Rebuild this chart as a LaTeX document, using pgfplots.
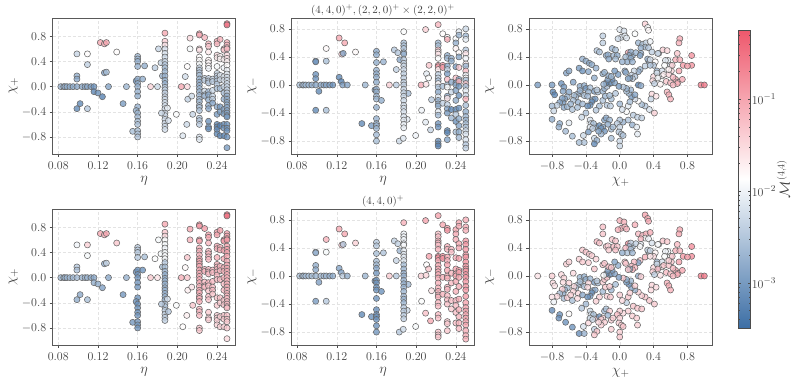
\documentclass[border=0pt]{standalone}
\usepackage{pgfplots}
\usepackage{pgfplotstable}
\pgfplotsset{compat=1.18}

% eta, chi+, log10 M (top row), log10 M (bottom row)
\pgfplotstableread{
x y t b
0.0826 0 -2.75 -2.7
0.0855 0 -2.75 -2.7
0.0867 0 -2.75 -2.7
0.0888 0 -2.8 -2.7
0.0918 0 -2.8 -2.65
0.0950 0 -2.8 -2.65
0.0988 0 -2.85 -2.65
0.1040 0 -2.85 -2.7
0.1070 0 -2.85 -2.7
0.1094 0 -2.85 -2.7
0.1130 0 -2.95 -2.8
0.1160 0 -3.1 -2.85
0.0988 0.52 -2.35 -2.0
0.1094 0.52 -1.85 -1.4
0.1094 0.35 -2.4 -1.95
0.0988 0.17 -2.8 -2.5
0.0988 0.12 -2.85 -2.55
0.0988 -0.35 -3.2 -2.8
0.1020 -0.27 -3.2 -2.85
0.1094 -0.35 -2.5 -2.6
0.1224 0.70 -1.0 -1.0
0.1265 0.68 -1.1 -1.1
0.1285 0.70 -1.0 -1.0
0.1265 0.22 -2.95 -2.8
0.1285 0.23 -2.6 -2.35
0.1160 -0.08 -3.25 -2.8
0.1200 -0.10 -3.1 -2.8
0.1245 -0.16 -3.3 -2.95
0.1306 0 -2.9 -2.85
0.1389 0.55 -1.85 -1.3
0.1453 -0.27 -3.0 -3.05
0.1487 0 -2.7 -2.75
0.16 0.48 -2.7 -2.45
0.16 0.44 -2.7 -2.45
0.16 0.40 -2.75 -2.45
0.16 0.32 -2.75 -2.5
0.1585 0.09 -3.2 -3.1
0.16 0.12 -2.8 -3.1
0.16 0.05 -2.8 -3.05
0.16 0.0 -2.75 -3.05
0.16 -0.08 -2.75 -3.05
0.16 -0.15 -2.8 -3.05
0.16 -0.32 -2.75 -3.1
0.1585 -0.38 -2.75 -3.1
0.16 -0.42 -2.7 -3.1
0.16 -0.48 -2.65 -3.1
0.16 -0.55 -2.6 -3.1
0.16 -0.60 -2.55 -3.05
0.155 -0.71 -2.6 -3.05
0.16 -0.70 -2.6 -3.05
0.16 -0.75 -2.55 -3.05
0.16 -0.80 -2.5 -3.05
0.167 0.33 -2.8 -2.6
0.165 0.12 -2.8 -3.1
0.1775 0.30 -2.45 -1.9
0.1810 0.60 -2.35 -1.95
0.1835 0.38 -2.35 -1.95
0.1850 0.17 -2.7 -2.6
0.1730 0 -1.45 -1.35
0.1800 0 -2.3 -1.6
0.1875 0.85 -1.0 -1.0
0.1875 0.72 -1.4 -1.3
0.1875 0.66 -1.6 -1.5
0.1875 0.60 -2.2 -1.9
0.1875 0.53 -2.2 -1.95
0.1875 0.47 -2.3 -2.0
0.1875 0.40 -2.35 -1.95
0.1875 0.35 -2.5 -1.9
0.1875 0.30 -2.6 -1.95
0.1875 0.24 -2.7 -2.5
0.1875 0.17 -2.75 -2.6
0.1875 0.10 -2.8 -2.7
0.1875 0.05 -2.75 -2.8
0.1875 -0.01 -2.5 -2.8
0.1875 -0.05 -2.4 -2.75
0.1875 -0.10 -2.4 -2.8
0.1875 -0.16 -2.3 -2.75
0.1875 -0.20 -2.3 -2.75
0.1875 -0.25 -2.25 -2.75
0.1875 -0.30 -2.25 -2.75
0.1875 -0.35 -2.25 -2.8
0.1875 -0.42 -2.3 -2.55
0.1875 -0.46 -2.3 -2.5
0.1875 -0.52 -2.3 -2.45
0.1875 -0.58 -2.3 -2.4
0.1875 -0.63 -2.3 -2.4
0.1875 -0.68 -2.25 -2.4
0.1900 -0.34 -2.05 -2.2
0.1910 -0.54 -2.2 -2.5
0.1840 -0.42 -2.3 -2.5
0.1990 -0.44 -1.9 -1.9
0.2055 -0.78 -2.15 -1.85
0.2095 -0.60 -2.3 -1.7
0.2105 -0.20 -2.4 -1.7
0.2040 0 -1.0 -1.1
0.2100 0 -1.5 -1.3
0.2080 0.16 -2.25 -1.8
0.2100 0.32 -1.85 -1.3
0.2128 0.77 -1.5 -1.0
0.2128 0.60 -1.95 -1.1
0.2145 -0.15 -2.3 -1.6
0.2155 -0.44 -2.35 -1.3
0.2222 0.84 -1.0 -0.9
0.2222 0.82 -1.05 -0.9
0.2222 0.60 -1.55 -1.0
0.2222 0.58 -1.6 -1.0
0.2222 0.47 -1.85 -1.1
0.2222 0.42 -1.85 -1.1
0.2222 0.36 -1.95 -1.1
0.2222 0.30 -2.3 -1.0
0.2222 0.26 -2.45 -1.0
0.2222 0.22 -2.55 -1.0
0.2222 0.18 -2.6 -1.0
0.2222 0.12 -2.7 -1.0
0.2222 0.07 -2.75 -1.05
0.2222 0.02 -2.75 -1.05
0.2222 -0.03 -2.7 -1.05
0.2222 -0.08 -2.7 -1.05
0.2222 -0.14 -2.7 -1.05
0.2222 -0.20 -2.65 -1.05
0.2222 -0.24 -2.6 -1.05
0.2222 -0.30 -2.55 -1.1
0.2222 -0.33 -2.55 -1.1
0.2222 -0.38 -2.55 -1.1
0.2222 -0.50 -2.5 -1.15
0.2222 -0.54 -2.5 -1.2
0.2222 -0.60 -2.45 -1.2
0.2222 -0.80 -2.2 -1.3
0.2222 -0.84 -2.1 -1.3
0.2275 0.78 -1.15 -0.9
0.2275 0.13 -2.35 -1.15
0.2275 0.10 -2.4 -1.15
0.2275 -0.07 -2.3 -1.2
0.2275 -0.13 -2.6 -1.2
0.2275 -0.15 -2.65 -1.2
0.2314 0.68 -1.15 -0.95
0.2314 0.64 -1.3 -1.0
0.2314 0.55 -1.65 -1.15
0.2314 0.42 -1.75 -1.15
0.2314 0.38 -1.8 -1.15
0.2314 0.33 -1.8 -1.2
0.2314 0.29 -2.0 -1.2
0.2314 0.13 -2.4 -1.2
0.2314 0.09 -2.45 -1.2
0.2314 0.06 -2.5 -1.2
0.2314 -0.08 -2.65 -1.15
0.2314 -0.13 -2.85 -1.25
0.2314 -0.21 -2.8 -1.3
0.2314 -0.30 -2.8 -1.25
0.2314 -0.35 -2.85 -1.3
0.2314 -0.55 -3.1 -1.35
0.2314 -0.64 -3.1 -1.4
0.2314 -0.67 -3.1 -1.4
0.2355 0.12 -2.4 -1.2
0.2355 0.08 -2.45 -1.2
0.2355 -0.06 -2.3 -1.2
0.2355 -0.15 -2.35 -1.2
0.2355 -0.20 -2.4 -1.2
0.2355 -0.26 -2.9 -1.3
0.24 0.72 -1.1 -0.95
0.24 0.68 -1.15 -1.0
0.24 0.50 -1.55 -1.05
0.24 0.46 -1.65 -1.05
0.24 0.32 -1.95 -1.1
0.24 0.21 -2.35 -1.1
0.24 0.17 -2.4 -1.15
0.24 0.13 -2.5 -1.15
0.24 0.09 -2.55 -1.15
0.24 0.04 -2.5 -1.15
0.24 -0.03 -2.55 -1.2
0.24 -0.32 -2.85 -1.3
0.24 -0.44 -3.0 -1.35
0.24 -0.60 -3.2 -1.4
0.24 -0.64 -3.2 -1.4
0.24 -0.68 -3.2 -1.4
0.24 -0.75 -3.2 -1.45
0.2431 0.75 -1.1 -0.95
0.2431 0.48 -1.75 -1.1
0.2431 0.44 -1.75 -1.1
0.2431 0.18 -2.2 -1.15
0.2431 0.11 -2.3 -1.2
0.2431 -0.03 -2.6 -1.2
0.2431 -0.32 -3.0 -1.3
0.2431 -0.40 -3.0 -1.35
0.2431 -0.62 -3.3 -1.4
0.2431 -0.78 -3.2 -1.45
0.2469 0.60 -1.3 -0.9
0.2469 0.58 -1.35 -0.95
0.2469 0.43 -1.75 -1.0
0.2469 0.30 -2.0 -1.05
0.2469 0.16 -2.15 -1.1
0.2469 0.10 -2.2 -1.1
0.2469 0 -2.35 -1.1
0.2469 -0.10 -2.65 -1.2
0.2469 -0.20 -2.75 -1.2
0.2469 -0.36 -2.95 -1.3
0.2469 -0.43 -3.0 -1.3
0.2469 -0.60 -3.1 -1.35
0.2469 -0.66 -3.1 -1.35
0.2469 -0.78 -3.2 -1.4
0.25 1.00 -0.5 -0.45
0.25 0.98 -0.55 -0.5
0.25 0.70 -1.1 -0.95
0.25 0.66 -1.15 -0.95
0.25 0.62 -1.2 -0.9
0.25 0.60 -1.2 -0.9
0.25 0.50 -1.5 -0.95
0.25 0.45 -1.6 -0.95
0.25 0.40 -1.75 -1.0
0.25 0.34 -1.85 -1.0
0.25 0.26 -2.0 -1.05
0.25 0.20 -2.1 -1.05
0.25 0.15 -2.2 -1.05
0.25 0.10 -2.25 -1.05
0.25 0.05 -2.3 -1.05
0.25 0 -2.35 -1.1
0.25 -0.05 -2.4 -1.1
0.25 -0.10 -2.45 -1.1
0.25 -0.15 -2.75 -1.1
0.25 -0.20 -2.8 -1.15
0.25 -0.25 -2.8 -1.15
0.25 -0.29 -2.8 -1.15
0.25 -0.33 -2.85 -1.2
0.25 -0.38 -2.85 -1.2
0.25 -0.42 -2.9 -1.2
0.25 -0.46 -2.95 -1.2
0.25 -0.48 -3.0 -1.25
0.25 -0.60 -3.05 -1.3
0.25 -0.66 -3.05 -1.3
0.25 -0.70 -3.1 -1.35
0.25 -0.80 -3.1 -1.35
0.25 -0.97 -3.0 -1.5
}\tablea

% eta, chi-, log10 M (top row), log10 M (bottom row)
\pgfplotstableread{
x y t b
0.0826 0 -2.6 -2.6
0.0855 0 -2.6 -2.6
0.0867 0 -2.65 -2.6
0.0888 0 -2.7 -2.65
0.0918 0 -2.7 -2.6
0.0950 0 -2.75 -2.6
0.0988 0 -2.85 -2.7
0.1040 0 -2.85 -2.65
0.1070 0 -2.85 -2.65
0.1094 0 -2.9 -2.7
0.1130 0 -2.95 -2.75
0.1160 0 -3.1 -2.8
0.0988 0.34 -3.05 -2.7
0.0988 0.33 -3.05 -2.75
0.0988 0.15 -3.1 -2.8
0.0988 0.09 -3.1 -2.85
0.1094 0.34 -2.6 -1.95
0.1094 0.52 -1.8 -1.1
0.0988 -0.36 -3.2 -3.0
0.1094 -0.36 -2.6 -2.5
0.1020 -0.09 -3.2 -2.95
0.1224 0.11 -3.2 -2.9
0.1245 0.05 -3.3 -2.95
0.1260 0 -2.95 -2.4
0.1306 0 -2.9 -2.8
0.1224 0.67 -1.0 -1.0
0.1280 0.60 -1.0 -1.0
0.1250 0.44 -1.35 -1.3
0.1265 0.45 -2.9 -2.5
0.1389 0.47 -1.8 -1.4
0.1453 -0.55 -3.2 -3.2
0.1487 0 -2.7 -2.7
0.1550 -0.58 -3.0 -3.1
0.1585 -0.07 -3.0 -3.1
0.16 0.48 -2.85 -2.5
0.16 0.43 -2.8 -2.5
0.16 0.32 -2.8 -2.6
0.16 0.21 -2.75 -2.6
0.16 0.16 -2.8 -2.65
0.16 0.11 -2.8 -2.9
0.16 0.04 -2.8 -3.05
0.16 -0.06 -2.75 -3.05
0.16 -0.10 -2.75 -3.05
0.16 -0.16 -2.7 -3.1
0.16 -0.20 -2.7 -3.1
0.16 -0.32 -2.8 -3.1
0.16 -0.48 -2.75 -3.15
0.16 -0.55 -2.75 -3.15
0.16 -0.58 -2.75 -3.1
0.16 -0.62 -2.7 -3.1
0.16 -0.71 -2.65 -3.1
0.16 -0.80 -2.6 -3.05
0.1650 -0.22 -2.8 -3.1
0.1670 0.33 -2.75 -2.55
0.1780 0.50 -2.5 -2.4
0.1815 0.46 -2.5 -2.4
0.1835 0.36 -2.85 -2.7
0.1800 0.22 -2.4 -2.35
0.1730 0 -1.4 -1.35
0.1800 0 -2.45 -2.5
0.1830 -0.80 -2.3 -2.5
0.1870 -0.76 -2.15 -2.3
0.1995 -0.72 -2.0 -1.95
0.1910 -0.49 -2.1 -2.3
0.1920 -0.12 -2.65 -2.65
0.1875 0.76 -1.9 -1.1
0.1875 0.60 -2.6 -2.0
0.1875 0.56 -2.55 -2.0
0.1875 0.52 -2.5 -2.0
0.1875 0.46 -2.7 -2.1
0.1875 0.44 -2.75 -1.9
0.1875 0.36 -2.45 -2.05
0.1875 0.31 -2.35 -2.1
0.1875 0.27 -2.3 -2.1
0.1875 0.22 -2.3 -2.15
0.1875 0.16 -2.4 -2.6
0.1875 0.10 -2.4 -2.7
0.1875 0.04 -2.4 -2.75
0.1875 0 -2.4 -2.75
0.1875 -0.06 -2.35 -2.75
0.1875 -0.11 -2.35 -2.75
0.1875 -0.16 -2.35 -2.75
0.1875 -0.22 -2.3 -2.7
0.1875 -0.29 -2.25 -2.65
0.1875 -0.33 -2.25 -2.7
0.1875 -0.38 -2.2 -2.7
0.1875 -0.45 -2.2 -2.5
0.1875 -0.50 -2.1 -2.45
0.1875 -0.56 -2.05 -2.45
0.1875 -0.61 -2.05 -2.4
0.2050 0 -1.05 -1.4
0.2100 0.01 -1.6 -1.45
0.2095 0.79 -1.4 -0.95
0.2105 0.16 -2.1 -1.85
0.2130 0.28 -1.3 -0.95
0.2125 0.10 -1.9 -1.3
0.2055 -0.36 -2.0 -1.9
0.2095 -0.53 -2.1 -1.25
0.2145 -0.64 -2.35 -1.0
0.2155 -0.21 -2.45 -1.6
0.2222 0.86 -1.15 -0.95
0.2222 0.60 -2.7 -1.25
0.2222 0.56 -2.6 -1.25
0.2222 0.50 -1.3 -1.1
0.2222 0.47 -1.7 -1.15
0.2222 0.44 -1.6 -1.25
0.2222 0.38 -1.9 -1.1
0.2222 0.28 -0.85 -0.75
0.2222 0.26 -0.85 -0.75
0.2222 0.22 -1.7 -1.0
0.2222 0.15 -2.4 -1.0
0.2222 0.10 -2.35 -1.05
0.2222 0.06 -2.6 -1.05
0.2222 0.02 -1.8 -1.05
0.2222 -0.03 -2.6 -1.05
0.2222 -0.10 -2.85 -1.1
0.2222 -0.17 -2.2 -1.1
0.2222 -0.22 -2.75 -1.1
0.2222 -0.27 -2.75 -1.1
0.2222 -0.30 -2.8 -1.1
0.2222 -0.38 -2.1 -1.15
0.2222 -0.43 -2.65 -1.2
0.2222 -0.55 -3.05 -1.2
0.2222 -0.60 -3.1 -1.25
0.2222 -0.80 -3.1 -1.3
0.2222 -0.84 -3.2 -1.3
0.2222 -0.87 -3.25 -1.3
0.2268 0.73 -1.85 -1.0
0.2268 0.28 -0.85 -0.8
0.2268 0.25 -0.9 -0.8
0.2268 -0.02 -2.6 -1.1
0.2268 -0.26 -2.4 -1.15
0.2314 0.68 -1.85 -0.95
0.2314 0.65 -1.1 -0.85
0.2314 0.42 -2.8 -1.1
0.2314 0.38 -2.7 -1.15
0.2314 0.27 -2.85 -1.0
0.2314 0.22 -2.4 -1.1
0.2314 0.16 -2.95 -0.95
0.2314 0.08 -1.2 -1.0
0.2314 0 -2.6 -1.1
0.2314 -0.03 -1.9 -1.1
0.2314 -0.16 -2.85 -1.15
0.2314 -0.19 -1.6 -1.15
0.2314 -0.28 -2.4 -1.2
0.2314 -0.34 -2.9 -1.2
0.2314 -0.40 -3.0 -1.25
0.2314 -0.65 -3.2 -1.35
0.2314 -0.68 -3.2 -1.35
0.2314 -0.78 -2.9 -1.3
0.2355 0.38 -2.75 -1.2
0.2355 0.34 -2.8 -1.25
0.2355 0.04 -2.85 -1.15
0.2355 -0.10 -2.35 -1.2
0.2355 -0.35 -3.25 -1.25
0.2355 -0.47 -2.7 -1.35
0.24 0.66 -1.9 -1.0
0.24 0.60 -2.75 -1.05
0.24 0.52 -1.75 -1.1
0.24 0.26 -3.0 -1.05
0.24 0.10 -1.25 -0.95
0.24 0.03 -3.05 -1.05
0.24 0 -2.8 -1.0
0.24 -0.08 -2.9 -1.05
0.24 -0.22 -2.8 -1.1
0.24 -0.35 -3.2 -1.2
0.24 -0.42 -2.5 -1.2
0.24 -0.52 -3.1 -1.25
0.24 -0.67 -2.6 -1.25
0.2431 0.76 -2.1 -1.0
0.2431 0.71 -2.7 -1.05
0.2431 0.46 -1.8 -1.0
0.2431 0.40 -2.85 -1.05
0.2431 0.25 -1.3 -0.95
0.2431 0.08 -2.9 -0.95
0.2431 0.05 -1.1 -0.95
0.2431 -0.02 -3.05 -1.0
0.2431 -0.15 -3.1 -1.05
0.2431 -0.33 -3.1 -1.05
0.2431 -0.48 -2.8 -1.1
0.2431 -0.58 -2.9 -1.15
0.2431 -0.67 -2.8 -1.15
0.2431 -0.75 -2.65 -1.2
0.25 0.80 -2.3 -1.05
0.25 0.70 -2.7 -1.05
0.25 0.65 -2.1 -1.1
0.25 0.50 -2.5 -0.85
0.25 0.45 -1.6 -0.85
0.25 0.38 -2.0 -0.85
0.25 0.30 -1.7 -0.85
0.25 0.27 -2.7 -0.85
0.25 0.20 -1.2 -0.8
0.25 0.14 -2.0 -0.85
0.25 0.10 -1.85 -0.85
0.25 0.07 -2.6 -0.85
0.25 0.02 -1.3 -0.85
0.25 -0.02 -2.6 -0.85
0.25 -0.08 -2.1 -0.85
0.25 -0.15 -2.3 -0.85
0.25 -0.20 -1.1 -0.85
0.25 -0.29 -2.6 -0.9
0.25 -0.38 -2.8 -0.95
0.25 -0.45 -2.7 -0.95
0.25 -0.50 -2.7 -0.95
0.25 -0.55 -2.6 -1.0
0.25 -0.60 -2.5 -1.0
0.25 -0.65 -2.3 -1.0
0.25 -0.70 -2.2 -1.0
0.25 -0.78 -2.2 -1.05
0.25 -0.85 -2.5 -1.05
0.25 -0.90 -2.4 -1.1
}\tableb

% chi+, chi-, log10 M (top row), log10 M (bottom row)
\pgfplotstableread{
x y t b
-0.97 0.00 -3.0 -1.6
-0.80 0.00 -3.0 -1.4
-0.79 -0.10 -3.2 -1.5
-0.77 -0.14 -3.25 -1.6
-0.69 0.02 -3.1 -1.5
-0.66 -0.03 -3.05 -1.45
-0.67 -0.09 -2.9 -1.55
-0.63 0.17 -2.9 -1.4
-0.60 0.20 -2.85 -1.45
-0.55 0.04 -2.95 -1.5
-0.48 0.24 -3.0 -1.4
-0.44 0.20 -3.1 -1.35
-0.37 0.19 -2.85 -1.4
-0.47 -0.02 -2.8 -2.7
-0.42 -0.01 -2.8 -2.75
-0.46 -0.12 -2.6 -2.65
-0.40 -0.05 -3.05 -2.8
-0.42 -0.15 -2.55 -2.55
-0.50 -0.13 -2.7 -2.5
-0.52 -0.17 -2.6 -2.55
-0.54 -0.15 -2.6 -1.5
-0.60 -0.10 -2.9 -1.45
-0.62 -0.17 -2.75 -2.6
-0.65 -0.20 -2.85 -2.7
-0.67 -0.25 -3.0 -2.75
-0.68 -0.19 -2.9 -1.4
-0.71 -0.25 -2.9 -2.55
-0.74 -0.29 -2.4 -1.5
-0.80 -0.30 -2.65 -1.6
-0.78 -0.37 -2.3 -2.0
-0.66 -0.32 -2.85 -2.6
-0.62 -0.31 -2.7 -1.4
-0.56 -0.35 -2.55 -2.6
-0.55 -0.22 -2.6 -1.45
-0.49 -0.25 -2.75 -1.5
-0.44 -0.27 -2.65 -2.85
-0.32 -0.21 -2.65 -2.7
-0.30 -0.09 -3.0 -3.0
-0.26 -0.10 -2.6 -2.6
-0.29 -0.20 -3.05 -2.85
-0.33 -0.24 -3.15 -3.1
-0.35 -0.29 -3.1 -3.0
-0.38 -0.30 -3.1 -3.1
-0.40 -0.40 -2.55 -2.65
-0.45 -0.46 -2.3 -2.5
-0.35 -0.04 -2.6 -2.7
-0.37 -0.10 -2.7 -1.5
-0.20 -0.22 -2.55 -2.65
-0.15 -0.29 -2.5 -1.4
-0.11 -0.30 -2.4 -1.35
-0.27 -0.07 -2.4 -2.4
-0.20 -0.09 -2.7 -1.4
-0.18 -0.05 -2.7 -1.35
-0.15 -0.02 -2.5 -1.3
-0.12 0.02 -2.9 -2.9
-0.10 0.03 -3.1 -3.0
-0.06 0.03 -2.9 -2.9
-0.09 0.08 -3.1 -2.95
-0.16 0.03 -3.3 -3.2
-0.19 0.01 -2.7 -1.9
-0.14 0.08 -2.95 -2.95
-0.20 0.16 -2.8 -1.3
-0.18 0.18 -2.7 -1.3
-0.13 0.13 -2.8 -1.2
-0.10 0.12 -2.7 -1.3
-0.02 0.15 -3.0 -2.8
-0.30 0.10 -2.8 -1.3
-0.44 0.37 -2.75 -1.35
-0.40 0.34 -2.8 -1.3
-0.36 0.31 -2.85 -1.35
-0.33 0.29 -2.8 -1.4
-0.28 0.24 -2.75 -1.45
-0.27 0.49 -2.5 -1.2
-0.24 0.47 -2.55 -1.3
-0.20 0.70 -2.4 -1.25
-0.20 0.60 -2.4 -1.3
-0.16 0.42 -2.75 -1.3
-0.14 0.43 -2.8 -1.4
-0.09 0.52 -2.7 -1.35
-0.05 0.50 -2.6 -1.3
-0.13 0.37 -2.85 -1.35
-0.07 0.42 -2.65 -1.2
-0.03 0.42 -2.8 -1.3
-0.05 0.37 -2.6 -1.25
0.00 0.79 -2.1 -1.1
0.05 0.77 -2.2 -1.1
0.02 0.68 -2.2 -1.1
0.06 0.70 -2.15 -1.15
-0.02 0.66 -2.3 -1.1
0.08 0.67 -2.1 -1.15
0.18 0.73 -1.9 -1.1
0.10 0.46 -1.0 -0.75
0.15 0.42 -2.85 -2.6
0.13 0.47 -2.8 -2.4
0.11 0.42 -2.85 -2.6
0.07 0.40 -2.6 -1.2
0.13 0.38 -2.8 -2.55
0.09 0.33 -2.8 -2.55
0.15 0.33 -2.75 -2.7
0.03 0.33 -2.75 -2.8
0.22 0.60 -2.7 -1.2
0.27 0.58 -2.6 -1.2
0.31 0.60 -2.35 -1.1
0.36 0.62 -2.0 -1.05
0.30 0.87 -1.4 -0.95
0.33 0.82 -1.9 -1.0
0.34 0.78 -1.8 -1.05
0.30 0.54 -2.6 -1.9
0.25 0.53 -2.75 -1.2
0.34 0.53 -2.5 -2.0
0.38 0.47 -2.4 -2.2
0.25 0.45 -2.8 -2.1
0.19 0.46 -2.7 -2.4
0.24 0.42 -2.9 -1.9
0.34 0.35 -3.05 -2.6
0.33 0.37 -2.65 -2.3
0.36 0.36 -2.2 -2.3
0.42 0.33 -1.85 -1.75
0.46 0.45 -2.55 -2.0
0.51 0.50 -1.4 -1.3
0.56 0.49 -1.5 -1.35
0.45 0.45 -2.3 -1.9
0.57 0.35 -2.1 -2.0
0.54 0.35 -2.15 -2.0
0.60 0.28 -2.2 -1.9
0.68 0.45 -1.3 -1.2
0.71 0.66 -1.05 -1.0
0.70 0.60 -1.1 -1.0
0.85 0.42 -0.8 -0.75
0.85 0.28 -0.8 -0.75
0.75 0.28 -0.9 -0.85
0.80 0.27 -0.95 -0.9
0.66 0.36 -1.1 -1.1
0.71 0.36 -1.1 -1.15
0.70 0.20 -1.0 -0.95
0.61 0.20 -1.5 -1.3
0.53 0.28 -1.9 -1.9
0.50 0.20 -2.2 -2.2
0.44 0.20 -2.7 -2.7
0.46 0.12 -2.4 -2.55
0.50 0.13 -1.9 -1.7
0.40 0.12 -1.5 -1.5
0.44 0.17 -2.2 -2.3
0.39 0.06 -1.5 -1.4
0.41 0.02 -2.4 -2.4
0.48 0.01 -1.75 -1.6
0.55 0.05 -1.3 -1.2
0.60 0.03 -1.2 -1.2
0.66 0.08 -0.95 -0.95
0.69 0.04 -1.1 -1.05
0.68 0.02 -1.1 -1.05
0.74 0.08 -1.05 -1.0
0.56 -0.10 -1.15 -1.1
0.58 -0.14 -1.1 -1.05
0.60 -0.20 -1.1 -1.1
0.38 -0.13 -1.5 -1.45
0.43 -0.16 -1.6 -1.5
0.37 -0.20 -2.35 -1.5
0.41 -0.40 -1.4 -1.35
0.35 -0.35 -2.2 -1.3
0.30 -0.30 -2.5 -1.3
0.26 -0.28 -2.6 -1.4
0.22 -0.23 -1.85 -1.4
0.18 -0.20 -2.2 -2.7
0.14 -0.17 -3.0 -2.85
0.18 -0.14 -2.9 -1.4
0.11 -0.12 -2.7 -3.05
0.13 -0.07 -2.7 -2.7
0.08 -0.09 -2.6 -3.0
0.08 -0.05 -2.75 -2.75
0.04 -0.03 -2.5 -1.3
0.00 -0.27 -2.65 -1.4
0.10 -0.30 -2.1 -1.3
0.08 -0.38 -1.9 -2.4
0.03 -0.35 -2.2 -1.5
0.16 -0.43 -2.45 -1.3
0.21 -0.46 -2.4 -1.3
0.26 -0.47 -2.4 -1.3
0.10 -0.50 -2.55 -1.4
0.04 -0.53 -2.75 -1.5
0.15 -0.57 -2.75 -1.4
0.20 -0.60 -2.1 -1.4
0.21 -0.70 -2.1 -1.4
0.00 -0.50 -2.5 -1.4
-0.03 -0.55 -2.45 -1.2
0.00 -0.60 -2.3 -1.4
-0.01 -0.67 -2.5 -1.4
0.02 -0.70 -2.45 -1.4
0.00 -0.80 -2.3 -1.4
0.00 -0.87 -2.3 -1.3
0.04 -0.72 -2.55 -1.3
-0.10 -0.63 -2.6 -1.4
-0.10 -0.76 -2.6 -1.4
-0.18 -0.50 -2.9 -2.7
-0.16 -0.47 -2.85 -2.55
-0.12 -0.50 -2.7 -1.4
-0.28 -0.60 -2.8 -1.3
-0.24 -0.58 -3.1 -3.1
-0.20 -0.60 -2.9 -1.4
-0.22 -0.62 -3.05 -1.4
-0.18 -0.66 -3.05 -1.4
-0.35 -0.50 -2.2 -2.3
-0.34 -0.55 -2.25 -2.2
-0.31 -0.55 -2.6 -2.6
-0.35 -0.60 -2.1 -2.3
-0.37 -0.67 -3.0 -1.5
-0.32 -0.62 -2.4 -2.3
-0.22 -0.70 -2.7 -1.4
-0.30 -0.76 -2.3 -2.4
-0.27 -0.79 -2.7 -1.3
-0.30 -0.84 -3.2 -1.3
-0.43 -0.72 -2.3 -2.2
-0.42 -0.82 -2.55 -2.75
-0.48 -0.82 -2.6 -3.15
-0.56 -0.73 -2.6 -3.1
-0.64 -0.66 -2.65 -3.1
-0.71 -0.55 -2.8 -3.1
-0.72 -0.60 -2.75 -3.15
-0.80 -0.49 -2.8 -3.15
-0.60 -0.54 -2.1 -1.85
-0.10 -0.20 -2.6 -2.7
-0.17 -0.16 -2.7 -1.35
-0.05 -0.12 -2.5 -2.6
-0.01 -0.02 -3.0 -2.95
-0.12 -0.15 -2.6 -1.35
0.24 0.22 -2.7 -1.3
0.22 0.19 -2.75 -2.9
0.17 0.20 -2.3 -1.2
0.14 0.14 -2.3 -1.2
0.18 0.12 -2.5 -1.2
0.15 0.09 -2.4 -1.1
0.12 0.10 -3.0 -2.8
0.10 0.09 -2.8 -1.3
0.22 0.00 -3.3 -2.8
0.25 -0.01 -2.8 -1.4
0.40 0.28 -2.5 -1.5
0.30 0.27 -2.4 -1.1
0.36 0.28 -2.55 -1.6
0.45 0.10 -1.9 -1.2
0.52 0.15 -1.7 -1.3
0.58 0.15 -1.5 -1.3
0.63 0.11 -1.2 -1.2
0.62 0.28 -1.4 -1.3
0.58 0.22 -1.75 -1.4
0.63 0.00 -1.2 -1.2
0.06 0.20 -2.8 -1.35
0.07 0.18 -2.85 -1.3
-0.06 0.20 -3.0 -2.9
-0.58 -0.27 -2.7 -1.4
-0.50 -0.32 -2.6 -1.5
-0.47 -0.08 -2.75 -2.6
-0.38 -0.16 -2.65 -1.5
-0.24 -0.30 -2.6 -1.4
-0.28 -0.36 -2.5 -1.4
-0.14 -0.56 -2.8 -2.7
-0.25 -0.66 -2.9 -1.5
-0.08 -0.60 -2.6 -1.4
0.12 -0.24 -2.6 -1.4
0.96 0.00 -0.6 -0.6
1.00 0.00 -0.55 -0.55
}\tablec

\pgfplotsset{
  colormap={bwr}{rgb255(0)=(60,110,165) rgb255(1)=(255,255,255) rgb255(2)=(238,88,108)},
  panel/.style={
    at={(#1)}, anchor=south west, scale only axis,
    width=183pt, height=136pt,
    point meta min=-3.49, point meta max=-0.247,
    axis line style={black!65, line width=0.9pt},
    grid=major, grid style={densely dashed, gray!22, line width=0.45pt},
    tick style={black!70, line width=0.5pt},
    tick align=outside, major tick length=3pt,
    xtick pos=lower, ytick pos=left,
    tick label style={font=\fontsize{12.5}{13}\selectfont, text=black!75},
    x tick label style={yshift=-1.5pt},
    label style={font=\fontsize{15}{16}\selectfont, text=black!75},
    title style={font=\fontsize{11}{12}\selectfont, text=black!75, yshift=-8pt},
    x tick label style={/pgf/number format/.cd, fixed, fixed zerofill, precision=2},
    y tick label style={/pgf/number format/.cd, fixed, fixed zerofill, precision=1},
  },
  etax/.style={xmin=0.0744, xmax=0.2588, xtick={0.08,0.12,0.16,0.20,0.24}, xlabel={$\eta$}, xlabel shift=0pt},
  chip/.style={ymin=-1.07, ymax=1.09, ytick={-0.8,-0.4,0,0.4,0.8}, ylabel={$\chi_+$}, ylabel shift=-3pt},
  chim/.style={ymin=-0.984, ymax=0.955, ytick={-0.8,-0.4,0,0.4,0.8}, ylabel={$\chi_-$}, ylabel shift=-3pt},
  chipx/.style={xmin=-1.069, xmax=1.094, xtick={-0.8,-0.4,0,0.4,0.8}, xlabel={$\chi_+$}, xlabel shift=0pt,
    x tick label style={/pgf/number format/.cd, fixed, fixed zerofill, precision=1}},
  dots/.style={scatter, only marks, mark=*, mark size=3.05pt,
    scatter src=explicit,
    scatter/use mapped color={draw=black!60, fill=mapped color},
    mark options={line width=0.55pt, fill opacity=0.78}},
}

\begin{document}
\begin{tikzpicture}
\path[use as bounding box] (0pt,0pt) rectangle (793pt,383pt);

\begin{axis}[panel={52.7pt,229pt}, etax, chip]
  \addplot[dots] table[x=x, y=y, meta=t] {\tablea};
\end{axis}
\begin{axis}[panel={291.5pt,229pt}, etax, chim,
  title={$(4,4,0)^{+},(2,2,0)^{+}\times(2,2,0)^{+}$}]
  \addplot[dots] table[x=x, y=y, meta=t] {\tableb};
\end{axis}
\begin{axis}[panel={529.3pt,229pt}, chipx, chim,
  colorbar,
  colorbar style={
    at={(parent axis.south east)}, anchor=south west, xshift=17.4pt, yshift=-174pt,
    width=12.6pt, height=298pt,
    axis line style={black!70, line width=0.8pt},
    ytick={-3,-2,-1},
    yticklabels={$10^{-3}$,$10^{-2}$,$10^{-1}$},
    yticklabel style={xshift=-2.5pt},
    minor ytick={-3.398,-3.301,-3.222,-3.155,-3.097,-3.046,-2.699,-2.523,-2.398,-2.301,-2.222,-2.155,-2.097,-2.046,-1.699,-1.523,-1.398,-1.301,-1.222,-1.155,-1.097,-1.046,-0.699,-0.523,-0.398,-0.301},
    major tick length=3pt, minor tick length=1.8pt,
    ylabel={$\mathcal{M}^{(4,4)}$},
    ylabel shift=-6pt,
    ylabel style={font=\fontsize{14}{15}\selectfont, text=black!75},
  },
]
  \addplot[dots] table[x=x, y=y, meta=t] {\tablec};
\end{axis}

\begin{axis}[panel={52.7pt,38pt}, etax, chip]
  \addplot[dots] table[x=x, y=y, meta=b] {\tablea};
\end{axis}
\begin{axis}[panel={291.5pt,38pt}, etax, chim, title={$(4,4,0)^{+}$}]
  \addplot[dots] table[x=x, y=y, meta=b] {\tableb};
\end{axis}
\begin{axis}[panel={529.3pt,38pt}, chipx, chim]
  \addplot[dots] table[x=x, y=y, meta=b] {\tablec};
\end{axis}
\end{tikzpicture}
\end{document}
